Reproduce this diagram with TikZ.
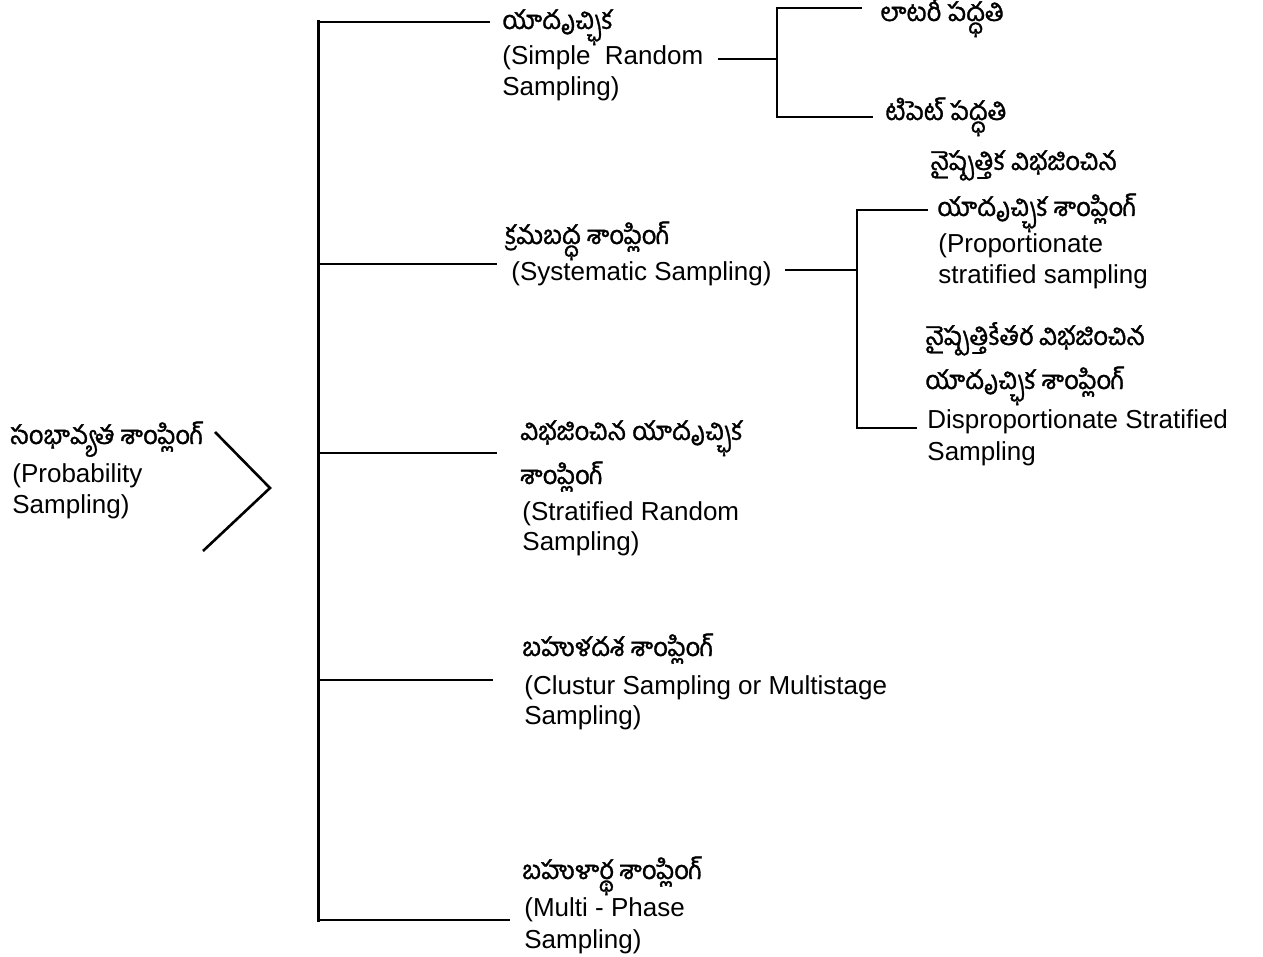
\documentclass[tikz,border=0pt]{standalone}
\usepackage{fontspec}
\setmainfont{Liberation Sans}
\newfontfamily\te[Script=Telugu,FakeBold=1.2]{Hind Guntur}
\begin{document}
\begin{tikzpicture}[x=0.5pt,y=-0.5pt,
  en/.style={anchor=base west,inner sep=0pt,font=\fontsize{13}{16}\selectfont},
  tl/.style={anchor=base west,inner sep=0pt,font=\te\fontsize{12.8}{16}\selectfont},
  spine/.style={line width=1.5pt,line cap=rect},
  conn/.style={line width=1.3pt}]
\useasboundingbox (0,0) rectangle (1263,957);
% root
\node[tl] (p1) at (10,444) {సంభావ్యత శాంప్లింగ్};
\node[en] (p2) at (12,482) {(Probability};
\node[en] (p3) at (12,513) {Sampling)};
\coordinate (bt) at (215,432);
\coordinate (bm) at (270,488);
\coordinate (bb) at (203,551);
\draw[conn] (bt) -- (bm) -- (bb);
% spine
\coordinate (s0) at (318,22);
\coordinate (s1) at (318,264);
\coordinate (s2) at (318,453);
\coordinate (s3) at (318,680);
\coordinate (s4) at (318,920);
\draw[spine] (s0) -- (s4);
% simple random
\node[tl] (a1) at (502,29) {యాదృచ్ఛిక};
\node[en] (a2) at (502,65) {(Simple\ \ Random};
\node[en] (a3) at (502,96) {Sampling)};
\coordinate (a0) at (490,22);
\draw[conn] (s0) -- (a0);
% systematic
\node[tl] (b1) at (505,244) {క్రమబద్ధ శాంప్లింగ్};
\node[en] (b2) at (511,280) {(Systematic Sampling)};
\coordinate (b0) at (497,264);
\draw[conn] (s1) -- (b0);
% stratified
\node[tl] (c1) at (520,440) {విభజించిన యాదృచ్ఛిక};
\node[tl] (c2) at (520,484) {శాంప్లింగ్};
\node[en] (c3) at (522,520) {(Stratified Random};
\node[en] (c4) at (522,550) {Sampling)};
\coordinate (c0) at (497,453);
\draw[conn] (s2) -- (c0);
% cluster
\node[tl] (d1) at (522,656) {బహుళదశ శాంప్లింగ్};
\node[en] (d2) at (524,694) {(Clustur Sampling or Multistage};
\node[en] (d3) at (524,724) {Sampling)};
\coordinate (d0) at (493,680);
\draw[conn] (s3) -- (d0);
% multi-phase
\node[tl] (e1) at (522,879) {బహుళార్థ శాంప్లింగ్};
\node[en] (e2) at (524,916) {(Multi - Phase};
\node[en] (e3) at (524,948) {Sampling)};
\coordinate (e0) at (510,920);
\draw[conn] (s4) -- (e0);
% simple random sub-branches
\node[tl] (f1) at (880,21) {లాటరీ పద్ధతి};
\node[tl] (f2) at (885,120) {టిపెట్ పద్ధతి};
\coordinate (fa) at (718,59);
\coordinate (fm) at (777,59);
\coordinate (ft) at (777,8);
\coordinate (fb) at (777,117);
\coordinate (fte) at (862,8);
\coordinate (fbe) at (873,117);
\draw[conn] (fa) -- (fm);
\draw[conn] (fte) -- (ft) -- (fb) -- (fbe);
% systematic sub-branches
\node[tl] (g1) at (930,170) {నైష్పత్తిక విభజించిన};
\node[tl] (g2) at (937,216) {యాదృచ్ఛిక శాంప్లింగ్};
\node[en] (g3) at (938,253) {(Proportionate};
\node[en] (g4) at (938,284) {stratified sampling};
\node[tl] (h1) at (925,345) {నైష్పత్తికేతర విభజించిన};
\node[tl] (h2) at (925,389) {యాదృచ్ఛిక శాంప్లింగ్};
\node[en] (h3) at (927,428) {Disproportionate Stratified};
\node[en] (h4) at (927,460) {Sampling};
\coordinate (ga) at (785,270);
\coordinate (gm) at (857,270);
\coordinate (gt) at (857,210);
\coordinate (gb) at (857,428);
\coordinate (gte) at (928,210);
\coordinate (gbe) at (917,428);
\draw[conn] (ga) -- (gm);
\draw[conn] (gte) -- (gt) -- (gb) -- (gbe);
\end{tikzpicture}
\end{document}
